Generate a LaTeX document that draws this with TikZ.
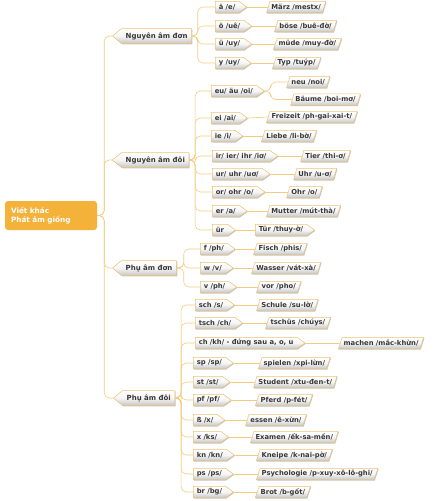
\documentclass[tikz,border=0pt]{standalone}
\usepackage{fontspec}
\setmainfont{DejaVu Sans}
\usetikzlibrary{shapes.symbols,shapes.geometric,shadows}
\definecolor{rootorange}{HTML}{F5B23A}
\definecolor{linkorange}{HTML}{F3CB80}
\definecolor{edgeorange}{HTML}{EFC270}
\definecolor{textgray}{HTML}{383838}

\begin{document}
\begin{tikzpicture}[x=1pt,y=-1pt,
  every node/.style={font=\fontsize{6.8}{7.8}\selectfont\bfseries,text=textgray,inner ysep=1.2pt},
  box/.style={draw=edgeorange,line width=.5pt,top color=white,bottom color=gray!45,middle color=gray!8,
    drop shadow={shadow xshift=.8pt,shadow yshift=-.8pt,opacity=.45}},
  root/.style={fill=rootorange,rounded corners=3pt,text=white,minimum width=92pt,minimum height=29pt,
    text width=80pt,align=left,font=\fontsize{7.3}{9.3}\selectfont\bfseries},
  branch/.style={box,signal,signal to=west,signal pointer angle=78,inner xsep=4pt,minimum height=15pt,anchor=west,
    font=\fontsize{7}{8}\selectfont\bfseries},
  sub/.style={box,signal,signal to=east,signal pointer angle=72,inner xsep=3.5pt,minimum height=11.5pt,anchor=west},
  leaf/.style={box,trapezium,trapezium left angle=68,trapezium right angle=112,trapezium stretches body=true,
    inner xsep=1.5pt,minimum height=11.5pt,anchor=west},
  link/.style={draw=linkorange,line width=.6pt,rounded corners=5pt}]
\useasboundingbox (0,0) rectangle (441,501);

% root and main branches
\node[root] (root) at (51,215.5) {Viết khác\\Phát âm giống};
\node[branch] (n1) at (112,36) {Nguyên âm đơn};
\node[branch] (n2) at (112,160) {Nguyên âm đôi};
\node[branch] (n3) at (112,268) {Phụ âm đơn};
\node[branch] (n4) at (113,398) {Phụ âm đôi};
\foreach \n in {n1,n2,n3,n4} \draw[link] (root.east) -- ++(7,0) |- (\n.west);

% Nguyen am don
\node[sub] (a1) at (215,7) {ä /e/}; \node[leaf] (la1) at (268,7) {März /mestx/};
\node[sub] (a2) at (215,26) {ö /uê/}; \node[leaf] (la2) at (276,26) {böse /buê-đờ/};
\node[sub] (a3) at (215,44) {ü /uy/}; \node[leaf] (la3) at (275,44) {müde /muy-đờ/};
\node[sub] (a4) at (215,63) {y /uy/}; \node[leaf] (la4) at (274,63) {Typ /tuýp/};
\foreach \n in {a1,a2,a3,a4} {\draw[link] (n1.east) -- ++(6,0) |- (\n.west); \draw[link] (\n.east) -- (l\n.west);}

% Nguyen am doi
\node[sub] (b1) at (211,91) {eu/ äu /oi/};
\node[leaf] (lb1) at (288,82) {neu /noi/}; \node[leaf] (lb1b) at (292,99.5) {Bäume /boi-mơ/};
\draw[link] (b1.east) -- ++(6,0) |- (lb1.west); \draw[link] (b1.east) -- ++(6,0) |- (lb1b.west);
\node[sub] (b2) at (211,118) {ei /ai/}; \node[leaf] (lb2) at (268,117) {Freizeit /ph-gai-xai-t/};
\node[sub] (b3) at (211,136) {ie /i/}; \node[leaf] (lb3) at (263,136) {Liebe /li-bờ/};
\node[sub] (b4) at (212,156) {ir/ ier/ ihr /iơ/}; \node[leaf] (lb4) at (302,156) {Tier /thi-ơ/};
\node[sub] (b5) at (212,174) {ur/ uhr /uơ/}; \node[leaf] (lb5) at (295,174) {Uhr /u-ơ/};
\node[sub] (b6) at (212,192) {or/ ohr /o/}; \node[leaf] (lb6) at (288,192) {Ohr /o/};
\node[sub] (b7) at (212,211) {er /a/}; \node[leaf] (lb7) at (268,211) {Mutter /mút-thà/};
\node[sub] (b8) at (212,230) {ür}; \node[sub] (lb8) at (255,230) {Tür /thuy-ờ/};
\foreach \n in {b1,b2,b3,b4,b5,b6,b7,b8} \draw[link] (n2.east) -- ++(6,0) |- (\n.west);
\foreach \n in {b2,b3,b4,b5,b6,b7,b8} \draw[link] (\n.east) -- (l\n.west);

% Phu am don
\node[sub] (c1) at (200,249) {f /ph/}; \node[leaf] (lc1) at (255,249) {Fisch /phis/};
\node[sub] (c2) at (200,268) {w /v/}; \node[leaf] (lc2) at (253,268) {Wasser /vát-xà/};
\node[sub] (c3) at (200,287) {v /ph/}; \node[leaf] (lc3) at (258,287) {vor /pho/};
\foreach \n in {c1,c2,c3} {\draw[link] (n3.east) -- ++(7,0) |- (\n.west); \draw[link] (\n.east) -- (l\n.west);}

% Phu am doi
\node[sub] (d1) at (195,305) {sch /s/}; \node[leaf] (ld1) at (258,305) {Schule /su-lờ/};
\node[sub] (d2) at (195,323) {tsch /ch/}; \node[leaf] (ld2) at (267,323) {tschüs /chúys/};
\node[sub] (d3) at (195,343) {ch /kh/ - đứng sau a, o, u}; \node[leaf] (ld3) at (340,343) {machen /mắc-khừn/};
\node[sub] (d4) at (193,363) {sp /sp/}; \node[leaf] (ld4) at (260,363) {spielen /xpi-lừn/};
\node[sub] (d5) at (193,382) {st /st/}; \node[leaf] (ld5) at (255,382) {Student /xtu-đen-t/};
\node[sub] (d6) at (193,400) {pf /pf/}; \node[leaf] (ld6) at (257,400) {Pferd /p-fét/};
\node[sub] (d7) at (193,420) {ß /x/}; \node[leaf] (ld7) at (247,420) {essen /ê-xừn/};
\node[sub] (d8) at (193,437) {x /ks/}; \node[leaf] (ld8) at (252,437) {Examen /ếk-sa-mền/};
\node[sub] (d9) at (193,455) {kn /kn/}; \node[leaf] (ld9) at (258,455) {Kneipe /k-nai-pờ/};
\node[sub] (d10) at (193,474) {ps /ps/}; \node[leaf] (ld10) at (258,474) {Psychologie /p-xuy-xô-lô-ghi/};
\node[sub] (d11) at (193,492) {br /bg/}; \node[leaf] (ld11) at (257,492) {Brot /b-gốt/};
\foreach \n in {d1,d2,d3,d4,d5,d6,d7,d8,d9,d10,d11} {\draw[link] (n4.east) -- ++(6,0) |- (\n.west); \draw[link] (\n.east) -- (l\n.west);}
\end{tikzpicture}
\end{document}
